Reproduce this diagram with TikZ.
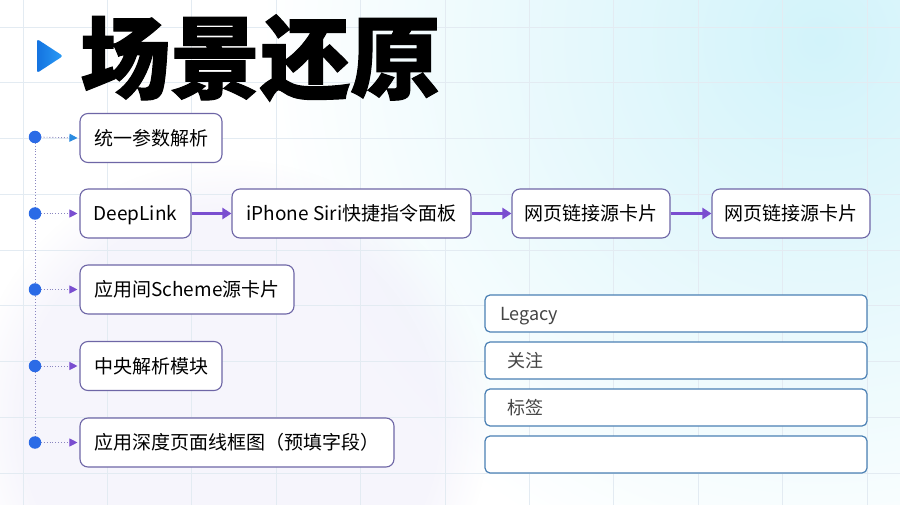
\documentclass[tikz,border=0pt]{standalone}
\usepackage{fontspec}
\setmainfont{Noto Sans CJK SC}
\newfontfamily\titlefont{Noto Sans CJK SC}[BoldFeatures={FakeBold=1.2}]
\usetikzlibrary{arrows.meta,fadings}
\definecolor{gridc}{HTML}{E3EBF2}
\definecolor{cyanglow}{HTML}{D2F3FA}
\definecolor{lav}{HTML}{EEECFA}
\definecolor{boxborder}{HTML}{6E66A6}
\definecolor{fieldborder}{HTML}{4A80B4}
\definecolor{dotblue}{HTML}{2B6BE6}
\definecolor{dotline}{HTML}{8A86C0}
\definecolor{arrpurple}{HTML}{7A4ED0}
\definecolor{arrblue}{HTML}{2A8AE0}
\definecolor{tri1}{HTML}{1473E0}
\definecolor{tri2}{HTML}{2A9CF6}
\definecolor{fieldtext}{HTML}{444444}
\begin{document}
\begin{tikzpicture}[x=1pt,y=-1pt,
  stepbox/.style={draw=boxborder, line width=1.1pt, rounded corners=8pt, fill=white,
    minimum height=49pt, inner sep=0pt, text height=16.7pt, text depth=2.3pt,
    font=\fontsize{19}{22}\selectfont, text=black},
  fieldbox/.style={draw=fieldborder, line width=1.2pt, rounded corners=5pt, fill=white,
    minimum height=37pt, text width=352pt, inner xsep=15pt, inner ysep=0pt, align=left,
    text height=15.8pt, text depth=2.2pt,
    font=\fontsize{18}{21}\selectfont, text=fieldtext},
  bdot/.style={circle, fill=dotblue, minimum size=12.5pt, inner sep=0pt},
  linkarrow/.style={dotted, line width=0.9pt, draw=dotline, shorten >=2pt},
  flowarrow/.style={draw=arrpurple, line width=3pt, -{Triangle[length=9pt,width=11pt]}}
]
\useasboundingbox (0,0) rectangle (900,505);
% background
\fill[white] (0,0) rectangle (900,505);
\begin{scope}
  \clip (0,0) rectangle (900,505);
  \shade[inner color=cyanglow, outer color=white] (820,40) circle (560);
  \fill[lav, path fading=circle with fuzzy edge 20 percent, opacity=0.5] (230,420) circle (260);
\end{scope}
% grid
\foreach \k in {0,...,10} {\draw[gridc, line width=0.8pt] (23+84.4*\k,0) -- (23+84.4*\k,505);}
\foreach \k in {0,...,8} {\draw[gridc, line width=0.8pt] (0,27+55.75*\k) -- (900,27+55.75*\k);}
% title
\shade[left color=tri1, right color=tri2, rounded corners=2.5pt] (37,39) -- (37,73) -- (63,56) -- cycle;
\node[anchor=west, inner sep=0pt, font=\titlefont\fontsize{90}{90}\selectfont\bfseries] (title) at (80,58) {场景还原};
% left column boxes
\node[stepbox, minimum width=142pt] (b1) at (151,138) {统一参数解析};
\node[stepbox, minimum width=111pt] (b2) at (135.5,213.5) {DeepLink};
\node[stepbox, minimum width=239pt] (b3) at (351.5,213.5) {iPhone Siri快捷指令面板};
\node[stepbox, minimum width=158pt] (b4) at (591,213.5) {网页链接源卡片};
\node[stepbox, minimum width=158pt] (b5) at (791,213.5) {网页链接源卡片};
\node[stepbox, minimum width=214pt] (b6) at (187,289.5) {应用间Scheme源卡片};
\node[stepbox, minimum width=142pt] (b7) at (151,366) {中央解析模块};
\node[stepbox, minimum width=314pt] (b8) at (237,442.5) {应用深度页面线框图（预填字段）};
% dots
\coordinate (d1) at (35,137);
\coordinate (d2) at (35,213.5);
\coordinate (d3) at (35,289.5);
\coordinate (d4) at (35,366);
\coordinate (d5) at (35,442.5);
\draw[dotline, dotted, line width=0.9pt] (d1) -- (d5);
% dotted links
\draw[linkarrow, -{Triangle[length=8pt,width=8pt,color=arrblue]}] (d1) -- (b1.west);
\draw[linkarrow, -{Triangle[length=8pt,width=8pt,color=arrpurple]}] (d2) -- (b2.west);
\draw[linkarrow, -{Triangle[length=8pt,width=8pt,color=arrpurple]}] (d3) -- (b6.west);
\draw[linkarrow, -{Triangle[length=8pt,width=8pt,color=arrpurple]}] (d4) -- (b7.west);
\draw[linkarrow, -{Triangle[length=8pt,width=8pt,color=arrpurple]}] (d5) -- (b8.west);
\node[bdot] (n1) at (d1) {};
\node[bdot] (n2) at (d2) {};
\node[bdot] (n3) at (d3) {};
\node[bdot] (n4) at (d4) {};
\node[bdot] (n5) at (d5) {};
% flow arrows
\draw[flowarrow] (b2.east) -- (b3.west);
\draw[flowarrow] (b3.east) -- (b4.west);
\draw[flowarrow] (b4.east) -- (b5.west);
% fields
\node[fieldbox] (f1) at (676,313.5) {Legacy};
\node[fieldbox] (f2) at (676,360.5) {\hspace*{7pt}关注};
\node[fieldbox] (f3) at (676,407.5) {\hspace*{7pt}标签};
\node[fieldbox] (f4) at (676,454.5) {};
\end{tikzpicture}
\end{document}
